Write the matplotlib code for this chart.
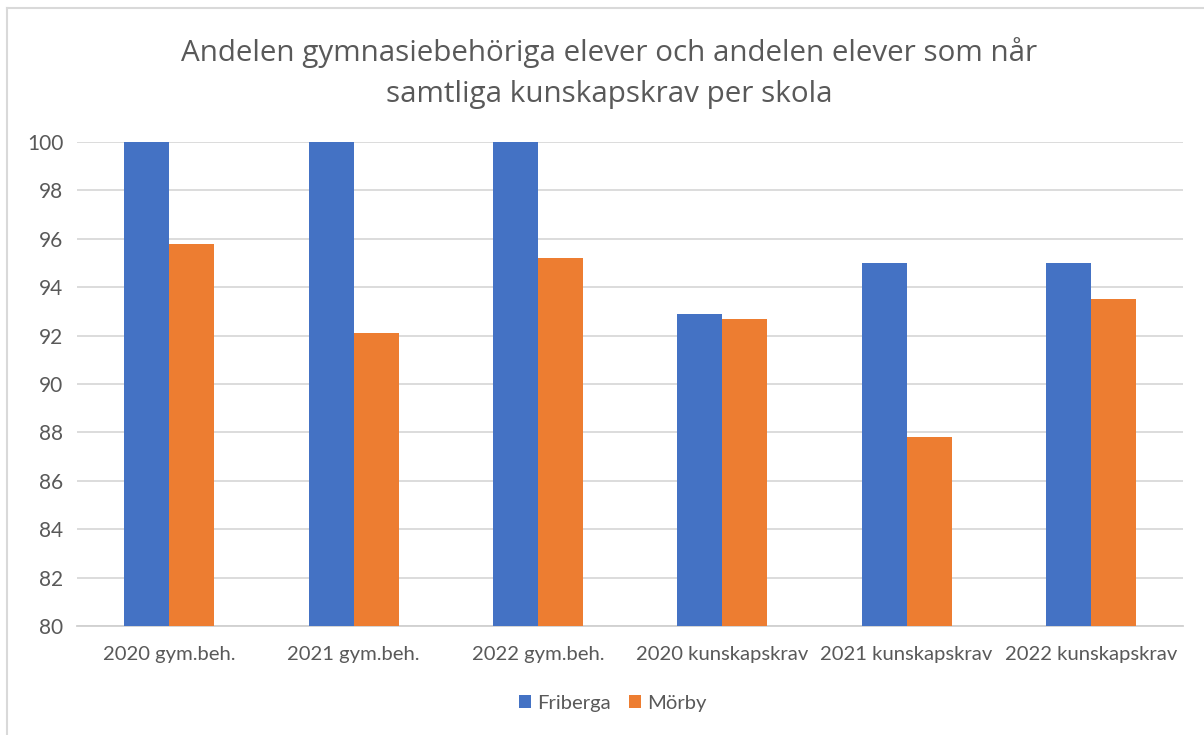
import matplotlib.pyplot as plt
import numpy as np

# data
kategorier = ["2020 gym.beh.", "2021 gym.beh.", "2022 gym.beh.",
              "2020 kunskapskrav", "2021 kunskapskrav", "2022 kunskapskrav"]
friberga = [100, 100, 100, 92.9, 95.0, 95.0]
morby = [95.8, 92.1, 95.2, 92.7, 87.8, 93.5]

blue = "#4472C4"
orange = "#ED7D31"
grey_txt = "#595959"

plt.rcParams['font.family'] = ['Lato', 'DejaVu Sans']

fig = plt.figure(figsize=(12.04, 7.35), dpi=100)
ax = fig.add_axes([0.064, 0.148, 0.9186, 0.659])

x = np.arange(len(kategorier))
ancho = 0.244
ax.bar(x - ancho/2, friberga, width=ancho, color=blue, label="Friberga", zorder=3)
ax.bar(x + ancho/2, morby, width=ancho, color=orange, label="Mörby", zorder=3)

ax.set_xlim(-0.5, len(kategorier) - 0.5)
ax.set_ylim(80, 100)
ax.set_yticks(np.arange(80, 101, 2))
ax.set_xticks(x)
ax.set_xticklabels(kategorier)
ax.tick_params(axis='both', length=0, labelsize=14.6, colors=grey_txt)
ax.tick_params(axis='y', labelsize=15)
ax.tick_params(axis='x', pad=14)
ax.tick_params(axis='y', pad=10)
ax.yaxis.grid(True, color="#D9D9D9", linewidth=1.3, zorder=0)
for s in ["top", "right", "left"]:
    ax.spines[s].set_visible(False)
ax.spines["bottom"].set_color("#D0D0D0")
ax.spines["bottom"].set_linewidth(1.3)

fig.text(0.506, 0.901, "Andelen gymnasiebehöriga elever och andelen elever som når\nsamtliga kunskapskrav per skola",
         ha="center", va="center", fontsize=21.3, color=grey_txt, family=["Open Sans", "DejaVu Sans"],
         linespacing=1.56)

fig.legend(loc="center", bbox_to_anchor=(0.509, 0.043), ncol=2, frameon=False,
           fontsize=14.6, labelcolor=grey_txt, handlelength=0.6, handleheight=0.6,
           handletextpad=0.3, columnspacing=0.9)

# chart border
fig.add_artist(plt.Line2D([0.006, 0.006], [0, 0.989], color="#D9D9D9", linewidth=1.5))
fig.add_artist(plt.Line2D([0.006, 1], [0.989, 0.989], color="#D9D9D9", linewidth=1.5))

fig.savefig("out.png", dpi=100)
